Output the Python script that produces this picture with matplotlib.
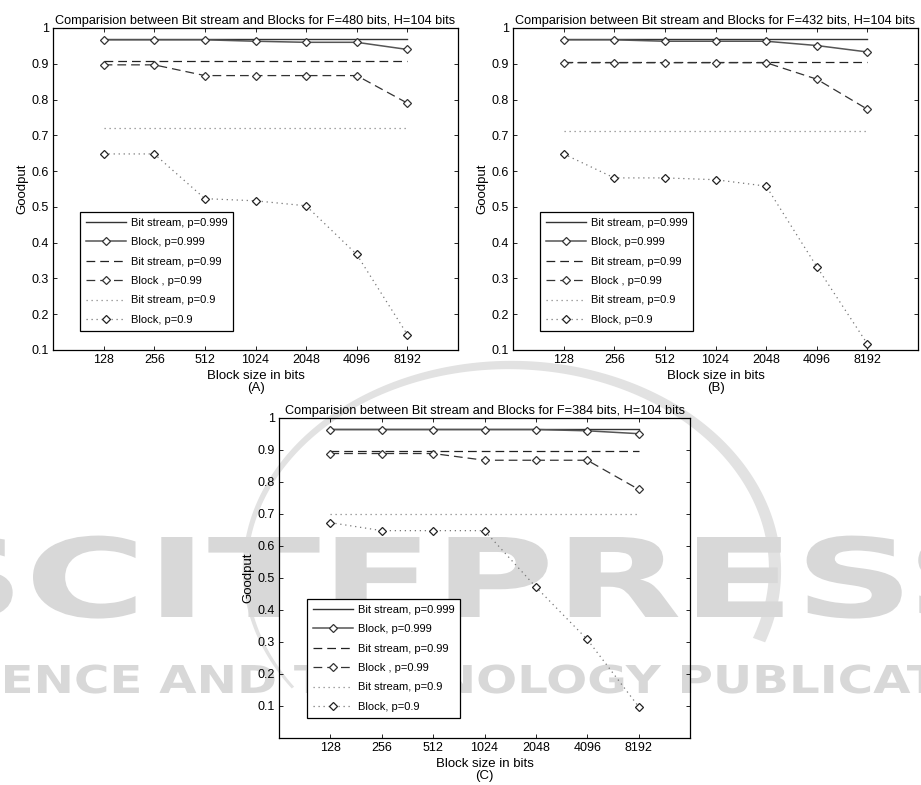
import matplotlib
matplotlib.use("Agg")
import numpy as np
import matplotlib.pyplot as plt
from matplotlib import font_manager
from matplotlib.textpath import TextPath
from matplotlib.patches import PathPatch, Polygon
from matplotlib.font_manager import FontProperties
import matplotlib.transforms as mtransforms

names = {f.name for f in font_manager.fontManager.ttflist}
FONT = "Liberation Sans Narrow" if "Liberation Sans Narrow" in names else "Liberation Sans"
plt.rcParams['font.family'] = [FONT, 'DejaVu Sans']

# ---------------- data ----------------
block_sizes = ["128", "256", "512", "1024", "2048", "4096", "8192"]
panel_titles = ["Comparision between Bit stream and Blocks for F=480 bits, H=104 bits",
                "Comparision between Bit stream and Blocks for F=432 bits, H=104 bits",
                "Comparision between Bit stream and Blocks for F=384 bits, H=104 bits"]
panel_tags = ["(A)", "(B)", "(C)"]
legend_labels = ["Bit stream, p=0.999", "Block, p=0.999", "Bit stream, p=0.99",
                 "Block , p=0.99", "Bit stream, p=0.9", "Block, p=0.9"]

# Panel A  (F=480)
a_bit_999 = [0.970, 0.970, 0.970, 0.970, 0.970, 0.970, 0.970]
a_blk_999 = [0.967, 0.967, 0.967, 0.963, 0.960, 0.960, 0.940]
a_bit_99 = [0.907, 0.907, 0.907, 0.907, 0.907, 0.907, 0.907]
a_blk_99 = [0.897, 0.897, 0.867, 0.867, 0.867, 0.867, 0.790]
a_bit_9 = [0.721, 0.721, 0.721, 0.721, 0.721, 0.721, 0.721]
a_blk_9 = [0.648, 0.648, 0.523, 0.517, 0.503, 0.367, 0.143]

# Panel B  (F=432)
b_bit_999 = [0.970, 0.970, 0.970, 0.970, 0.970, 0.970, 0.970]
b_blk_999 = [0.967, 0.967, 0.963, 0.963, 0.963, 0.951, 0.933]
b_bit_99 = [0.905, 0.905, 0.905, 0.905, 0.905, 0.905, 0.905]
b_blk_99 = [0.903, 0.903, 0.903, 0.903, 0.903, 0.857, 0.773]
b_bit_9 = [0.712, 0.712, 0.712, 0.712, 0.712, 0.712, 0.712]
b_blk_9 = [0.648, 0.581, 0.581, 0.576, 0.558, 0.333, 0.117]

# Panel C  (F=384)
c_bit_999 = [0.967, 0.967, 0.967, 0.967, 0.967, 0.967, 0.967]
c_blk_999 = [0.964, 0.964, 0.964, 0.964, 0.964, 0.960, 0.951]
c_bit_99 = [0.898, 0.898, 0.898, 0.898, 0.898, 0.898, 0.898]
c_blk_99 = [0.889, 0.889, 0.889, 0.868, 0.868, 0.868, 0.777]
c_bit_9 = [0.700, 0.700, 0.700, 0.700, 0.700, 0.700, 0.700]
c_blk_9 = [0.673, 0.648, 0.648, 0.648, 0.472, 0.308, 0.098]

yticks_ab = [0.1, 0.2, 0.3, 0.4, 0.5, 0.6, 0.7, 0.8, 0.9, 1]
yticks_c = [0.1, 0.2, 0.3, 0.4, 0.5, 0.6, 0.7, 0.8, 0.9, 1]

W, H = 921, 785
fig = plt.figure(figsize=(W / 100, H / 100), dpi=100)

# ---------- faint publisher watermark ----------
WM = '#d8d8d8'
WM_FP = FontProperties(family='DejaVu Sans', weight='bold')

def glyph_start(s, i):
    full = TextPath((0, 0), s[:i + 1], size=100, prop=WM_FP).get_extents()
    g = TextPath((0, 0), s[i], size=100, prop=WM_FP).get_extents()
    return full.x1 - g.width

def add_wm(s, i1, x1, i2, x2, y_top, cap_px, color):
    tp = TextPath((0, 0), s, size=100, prop=WM_FP)
    cap = TextPath((0, 0), "E", size=100, prop=WM_FP).get_extents().height
    g1, g2 = glyph_start(s, i1), glyph_start(s, i2)
    sx = (x2 - x1) / (g2 - g1)
    sy = cap_px / cap
    tr = (mtransforms.Affine2D().translate(-g1, 0).scale(sx, sy)
          .translate(x1, H - y_top - cap_px))
    fig.patches.append(PathPatch(tr.transform_path(tp), facecolor=color, edgecolor='none',
                                 transform=mtransforms.IdentityTransform(), zorder=-5))

add_wm("SCITEPRESS", 1, 33, 7, 697, 537, 80, WM)
add_wm("SCIENCE AND TECHNOLOGY PUBLICATIONS", 3, 5, 23, 682, 665, 28, WM)

# swoosh: tapered arc over the top (image coords, y downward)
t = np.linspace(np.radians(215), np.radians(-20), 240)
thick = np.linspace(3, 13, t.size)
cx, cy, rx, ry = 510, 570, 265, 205
ox = cx + (rx + thick / 2) * np.cos(t)
oy = cy - (ry + thick / 2) * np.sin(t)
ix = cx + (rx - thick / 2) * np.cos(t)
iy = cy - (ry - thick / 2) * np.sin(t)
band = np.r_[np.c_[ox, H - oy], np.c_[ix, H - iy][::-1]]
fig.patches.append(Polygon(band, closed=True, facecolor='#e2e2e2', edgecolor='none',
                           transform=mtransforms.IdentityTransform(), zorder=-6))

# ---------- panels ----------
def draw_panel(rect, title, tag, bit999, blk999, bit99, blk99, bit9, blk9, ylim, yticks, legend_anchor):
    ax = fig.add_axes(rect)
    ax.set_facecolor('none')
    x = list(range(1, len(block_sizes) + 1))
    mk = dict(marker='D', markersize=4.2, markerfacecolor='white', markeredgewidth=0.9)
    ax.plot(x, bit999, color='#333333', lw=1.0, linestyle='-', label=legend_labels[0])
    ax.plot(x, blk999, color='#555555', lw=1.1, linestyle='-', markeredgecolor='#333333', label=legend_labels[1], **mk)
    ax.plot(x, bit99, color='#222222', lw=0.9, dashes=(7, 4), label=legend_labels[2])
    ax.plot(x, blk99, color='#333333', lw=0.9, dashes=(7, 4), markeredgecolor='#333333', label=legend_labels[3], **mk)
    ax.plot(x, bit9, color='#888888', lw=0.9, dashes=(1, 3), label=legend_labels[4])
    ax.plot(x, blk9, color='#777777', lw=0.9, dashes=(1, 3), markeredgecolor='#222222', label=legend_labels[5], **mk)
    ax.set_xlim(0, 8)
    ax.set_ylim(*ylim)
    ax.set_xticks(x)
    ax.set_xticklabels(block_sizes)
    ax.set_yticks(yticks)
    ax.set_yticklabels([("%g" % v) for v in yticks])
    ax.tick_params(direction='in', top=True, right=True, length=3, width=0.6, labelsize=9, pad=3)
    for s in ax.spines.values():
        s.set_linewidth(0.9)
    ax.set_title(title, fontsize=9.2, pad=3)
    ax.set_ylabel("Goodput", fontsize=9.5, labelpad=2)
    ax.set_xlabel("Block size in bits\n" + tag, fontsize=9.5, labelpad=3, linespacing=1.0)
    leg = ax.legend(loc='lower left', bbox_to_anchor=legend_anchor, fontsize=8, frameon=True,
                    fancybox=False, edgecolor='black', handlelength=3.6, handletextpad=0.4,
                    labelspacing=0.85, borderpad=0.55, borderaxespad=0, framealpha=1)
    leg.get_frame().set_linewidth(0.9)
    return ax

draw_panel([53 / W, 1 - 350 / H, 405 / W, 322 / H], panel_titles[0], panel_tags[0],
           a_bit_999, a_blk_999, a_bit_99, a_blk_99, a_bit_9, a_blk_9, (0.1, 1.0), yticks_ab, (0.067, 0.059))
draw_panel([513 / W, 1 - 350 / H, 405 / W, 322 / H], panel_titles[1], panel_tags[1],
           b_bit_999, b_blk_999, b_bit_99, b_blk_99, b_bit_9, b_blk_9, (0.1, 1.0), yticks_ab, (0.067, 0.059))
draw_panel([279 / W, 1 - 738 / H, 411 / W, 320 / H], panel_titles[2], panel_tags[2],
           c_bit_999, c_blk_999, c_bit_99, c_blk_99, c_bit_9, c_blk_9, (0.0, 1.0), yticks_c, (0.068, 0.0625))

fig.savefig("out.png", dpi=100, facecolor='white')
